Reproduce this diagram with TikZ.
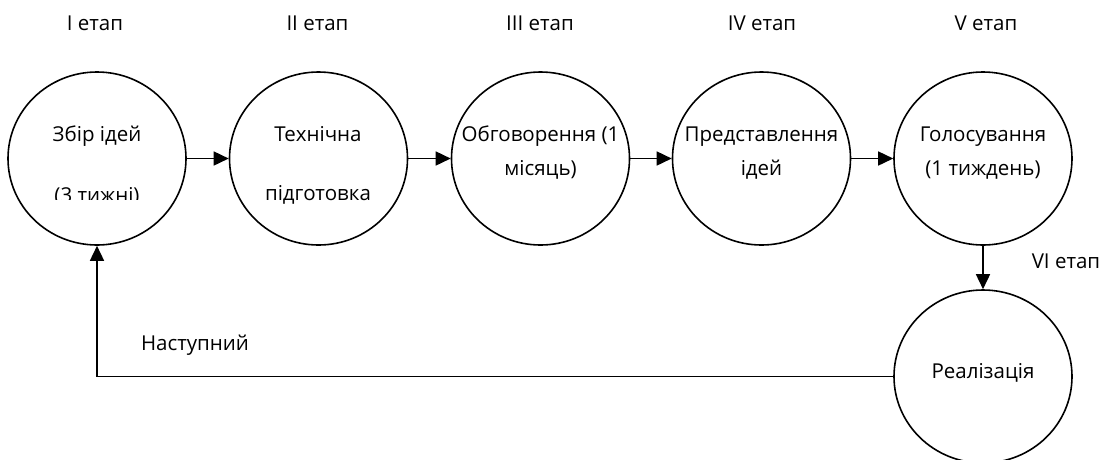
\documentclass[tikz,border=0pt]{standalone}
\usepackage{fontspec}
\setmainfont{Open Sans}
\usetikzlibrary{shapes.geometric,arrows.meta}
\tikzset{
  stage/.style={ellipse,draw,line width=1.6pt,minimum width=178pt,minimum height=173pt,inner sep=0pt},
  lbl/.style={font=\fontsize{20.5}{22}\selectfont,inner sep=0pt,anchor=base},
  arr/.style={line width=1.6pt,-{Triangle[length=15pt,width=14pt]}},
}
\begin{document}
\begin{tikzpicture}[x=1pt,y=-1pt]
\useasboundingbox (0,0) rectangle (1106,459);
\node[stage] (c1) at (97,158.5) {};
\node[stage] (c2) at (318.5,158.5) {};
\node[stage] (c3) at (540.5,158.5) {};
\node[stage] (c4) at (761.5,158.5) {};
\node[stage] (c5) at (983,158.5) {};
\node[stage] (c6) at (983,376.5) {};
% stage labels
\node[lbl] (e1) at (95,30) {I етап};
\node[lbl] (e2) at (317.5,30) {II етап};
\node[lbl] (e3) at (540,30) {III етап};
\node[lbl] (e4) at (762,30) {IV етап};
\node[lbl] (e5) at (986,30) {V етап};
\node[lbl] (e6) at (1066,268) {VI етап};
% circle texts
\node[lbl] (t1a) at (97,141.7) {Збір ідей};
\begin{scope}
\clip (30,170) rectangle (170,199);
\node[lbl] (t1b) at (97,202) {(3 тижні)};
\end{scope}
\node[lbl] (t2a) at (318,141.7) {Технічна};
\node[lbl] (t2b) at (318,200) {підготовка};
\node[lbl] (t3a) at (540.5,141.7) {Обговорення (1};
\node[lbl] (t3b) at (540.5,175.5) {місяць)};
\node[lbl] (t4a) at (761.5,141.7) {Представлення};
\node[lbl] (t4b) at (761.5,175.5) {ідей};
\node[lbl] (t5a) at (983,141.5) {Голосування};
\node[lbl] (t5b) at (983,175.5) {(1 тиждень)};
\node[lbl] (t6) at (983,378) {Реалізація};
\node[lbl] (nx) at (195,350.7) {Наступний};
% connectors
\draw[arr] (c1.east) -- (c2.west);
\draw[arr] (c2.east) -- (c3.west);
\draw[arr] (c3.east) -- (c4.west);
\draw[arr] (c4.east) -- (c5.west);
\draw[arr] (c5.south) -- (c6.north);
\draw[arr] (c6.west) -- (c6.west -| c1.south) -- (c1.south);
\end{tikzpicture}
\end{document}
